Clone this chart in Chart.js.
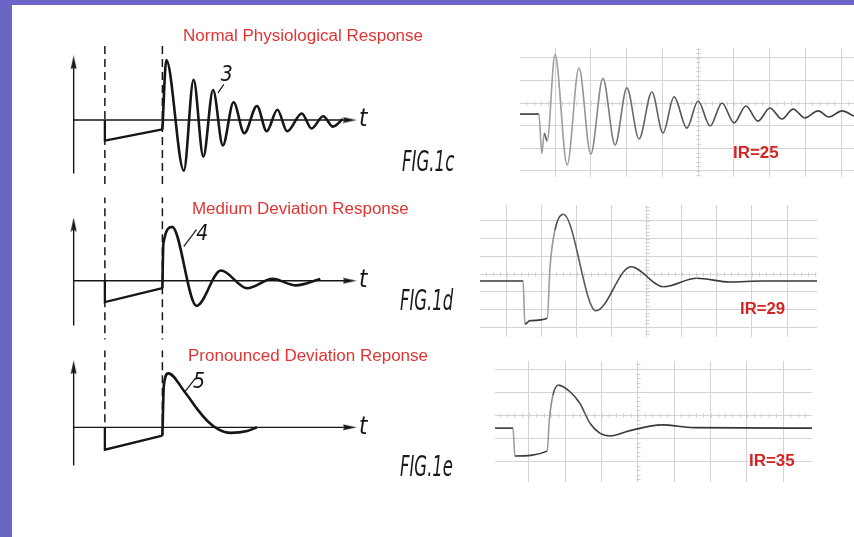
<!DOCTYPE html>
<html><head><meta charset="utf-8">
<script src="https://cdn.jsdelivr.net/npm/chart.js@4.4.1/dist/chart.umd.min.js"></script>
<style>
html,body{margin:0;padding:0;background:#fff}
body{width:854px;height:537px;position:relative;overflow:hidden}
.band{position:absolute;background:#6b66c6}
canvas{position:absolute;display:block}
.lbl{position:absolute;white-space:nowrap;transform-origin:0 0;line-height:1}
</style></head>
<body>
<div class="band" style="left:0;top:0;width:12px;height:537px"></div>
<div class="band" style="left:0;top:0;width:854px;height:5px"></div>
<script>
// ================= DATA =================
// Patent drawings (left): time units / amplitude units
const eventTimes = [3.2, 9.1];            // dashed marker lines
const tLabelPos = [29.7, 0];              // the "t" at the arrow of each time axis

// FIG.1c  Normal Physiological Response
const c_rampT = [3.2, 3.2, 9.1];
const c_rampA = [0, -2.2, -1.0];
const c_waveT = [9.1, 9.5, 11.3, 12.3, 13.3, 14.3, 15.3, 16.4, 17.5, 18.8, 19.8, 20.9, 21.9, 23.4, 24.4, 25.6, 26.6, 27.6];
const c_waveA = [-1.0, 6.4, -5.4, 4.3, -3.9, 3.2, -2.7, 1.9, -1.4, 1.5, -1.2, 1.1, -1.2, 0.7, -0.9, 0.4, -0.7, 0.1];
const c_axisA = [-5.7, 6.15];
const c_axisT = [0, 28.3];
const c_dashA = [7.9, -7.5];
const c_dashB = [7.9, -7.5];
const c_leaderT = [14.8, 15.4];
const c_leaderA = [2.9, 3.8];
const c_tag = ['3', 15.7, 4.8];

// FIG.1d  Medium Deviation Response
const d_rampT = [3.2, 3.2, 9.1];
const d_rampA = [0, -2.3, -0.8];
const d_waveT = [9.1, 9.2, 10.1, 12.6, 15.1, 17.8, 20.4, 22.8, 25.3];
const d_waveA = [-0.8, 4.0, 5.8, -2.7, 1.1, -0.8, 0.2, -0.5, 0.2];
const d_axisA = [-4.8, 6.05];
const d_axisT = [0, 28.3];
const d_dashA = [9.2, -6.5];
const d_dashB = [9.2, -6.5];
const d_leaderT = [11.3, 12.6];
const d_leaderA = [3.7, 5.5];
const d_tag = ['4', 13.2, 5.0];

// FIG.1e  Pronounced Deviation Reponse
const e_rampT = [3.2, 3.2, 9.1];
const e_rampA = [0, -2.4, -0.9];
const e_waveT = [9.1, 9.25, 9.7, 11.4, 12.8, 13.8, 14.8, 16.1, 17.8, 18.8];
const e_waveA = [-0.9, 4.5, 5.8, 3.8, 1.8, 0.6, -0.2, -0.6, -0.4, 0.0];
const e_axisA = [-4.1, 6.45];
const e_axisT = [0, 28.3];
const e_dashA = [8.4, -2.4];
const e_dashB = [8.4, -0.9];
const e_leaderT = [11.4, 12.5];
const e_leaderA = [3.8, 5.3];
const e_tag = ['5', 12.85, 4.8];

// Oscilloscope traces (right): x / y in grid divisions
const r25X = [-0.98, -0.45, -0.37, -0.30, -0.22, 0.0, 0.34, 0.67, 1.0, 1.34, 1.68, 2.01, 2.35, 2.71, 3.02, 3.33, 3.69, 4.0, 4.34, 4.67, 5.01, 5.34, 5.68, 6.01, 6.35, 6.66, 6.99, 7.36, 7.66, 8.03, 8.36];
const r25Y = [-0.49, -0.49, -2.23, -1.34, -1.68, 2.15, -2.74, 1.56, -2.27, 1.09, -1.86, 0.67, -1.59, 0.49, -1.33, 0.27, -1.11, 0.09, -1.02, 0.0, -0.88, -0.13, -0.80, -0.22, -0.71, -0.27, -0.66, -0.35, -0.62, -0.35, -0.58];
const r25GridX = [0, 1, 2, 3, 4, 5, 6, 7, 8];
const r25GridY = [-3, -2, -1, 0, 1, 2];

const r29X = [-0.77, 0.46, 0.51, 0.66, 1.15, 1.23, 1.37, 1.61, 2.54, 3.54, 4.47, 5.42, 6.37, 7.3, 8.86];
const r29Y = [-0.40, -0.40, -2.83, -2.64, -2.51, 0.41, 2.49, 3.38, -2.08, 0.41, -0.72, -0.24, -0.45, -0.40, -0.40];
const r29GridX = [0, 1, 2, 3, 4, 5, 6, 7, 8];
const r29GridY = [-3, -2, -1, 0, 1, 2, 3];

const r35X = [-0.94, -0.44, -0.39, 0.50, 0.56, 0.66, 0.81, 1.13, 1.40, 1.68, 1.96, 2.23, 2.78, 3.66, 4.53, 7.8];
const r35Y = [-0.57, -0.57, -1.78, -1.57, -0.22, 0.87, 1.30, 1.01, 0.51, -0.36, -0.80, -0.91, -0.68, -0.43, -0.55, -0.57];
const r35GridX = [0, 1, 2, 3, 4, 5, 6, 7];
const r35GridY = [-2, -1, 0, 1, 2];

// Texts
const titles = ['Normal Physiological Response', 'Medium Deviation Response', 'Pronounced Deviation Reponse'];
const figNames = ['FIG.1c', 'FIG.1d', 'FIG.1e'];
const irNames = ['IR=25', 'IR=29', 'IR=35'];

// ================= LAYOUT / STYLE =================
const INK = '#161616';
const GRID = '#d4d4d4';
const RED = '#e03434';
const UNIT = 10;
const leftBoxes = [
  {left:40, top:20,  width:430, height:172, ox:69, oy:121},
  {left:40, top:192, width:430, height:153, ox:69, oy:281.7},
  {left:40, top:345, width:430, height:155, ox:69, oy:427.7}
];
const rightBoxes = [
  {left:520, top:48,  width:334, height:129, ox:555, sx:35.75, oy:103, sy:22.6},
  {left:480, top:205, width:337, height:132, ox:507, sx:35,    oy:274, sy:17.67},
  {left:495, top:361, width:317, height:121, ox:529, sx:36.3,  oy:415, sy:23}
];
const titlePos = [[183, 35.8, 240], [191.7, 208.8, 216.7], [188.3, 355.5, 240]];
const figPos = [[401.7, 161.7, 52.3], [400, 301, 53.3], [400, 466.7, 53]];
const irPos = [[732.7, 153.3, 45.6], [740, 309.2, 45], [749.3, 460.5, 45.7]];

function mkCanvas(b){
  const c=document.createElement('canvas');
  c.width=b.width; c.height=b.height;
  c.style.left=b.left+'px'; c.style.top=b.top+'px';
  c.style.width=b.width+'px'; c.style.height=b.height+'px';
  document.body.appendChild(c); return c;
}
function pts(xs, ys){ return xs.map((x,i)=>({x:x, y:ys[i]})); }
function arrowImg(){
  const c=document.createElement('canvas'); c.width=7; c.height=14;
  const g=c.getContext('2d'); g.fillStyle=INK; g.beginPath();
  g.moveTo(3.5,0); g.lineTo(6.5,14); g.lineTo(3.5,12); g.lineTo(0.5,14); g.closePath(); g.fill();
  return c;
}
const ARROW = arrowImg();

function notes(items){
  return { id:'notes', afterDatasetsDraw(chart){
    const ctx=chart.ctx, xs=chart.scales.x, ys=chart.scales.y;
    ctx.save(); ctx.textAlign='center'; ctx.textBaseline='middle'; ctx.fillStyle=INK;
    items.forEach(it=>{ ctx.font=it.font; ctx.fillText(it.text, xs.getPixelForValue(it.x), ys.getPixelForValue(it.y)); });
    ctx.restore();
  }};
}
function minorTicks(cx, cy){
  return { id:'minor', beforeDatasetsDraw(chart){
    const ctx=chart.ctx, xs=chart.scales.x, ys=chart.scales.y;
    const px0=Math.round(xs.getPixelForValue(cx))+0.5, py0=Math.round(ys.getPixelForValue(cy))+0.5;
    ctx.save(); ctx.strokeStyle='#d0d0d0'; ctx.lineWidth=1; ctx.beginPath();
    for(let k=Math.ceil(xs.min*5); k<=Math.floor(xs.max*5); k++){
      const p=Math.round(xs.getPixelForValue(k/5))+0.5; ctx.moveTo(p,py0-2); ctx.lineTo(p,py0+2);
    }
    for(let k=Math.ceil(ys.min*5); k<=Math.floor(ys.max*5); k++){
      const p=Math.round(ys.getPixelForValue(k/5))+0.5; ctx.moveTo(px0-2,p); ctx.lineTo(px0+2,p);
    }
    ctx.stroke(); ctx.restore();
  }};
}

function leftChart(b, p){
  const cv=mkCanvas(b);
  const base={borderColor:INK, pointRadius:0, tension:0, fill:false};
  const ds=[
    Object.assign({}, base, {data:pts([0,0], p.axisA), borderWidth:1.4, pointStyle:ARROW, pointRadius:c=>c.dataIndex===1?3:0}),
    Object.assign({}, base, {data:pts(p.axisT,[0,0]), borderWidth:1.4, pointStyle:ARROW, pointRotation:90, pointRadius:c=>c.dataIndex===1?3:0}),
    Object.assign({}, base, {data:pts([eventTimes[0],eventTimes[0]], p.dashA), borderWidth:1.5, borderDash:[8,5]}),
    Object.assign({}, base, {data:pts([eventTimes[1],eventTimes[1]], p.dashB), borderWidth:1.5, borderDash:[8,5]}),
    Object.assign({}, base, {data:pts(p.rampT, p.rampA), borderWidth:2.3}),
    Object.assign({}, base, {data:pts(p.waveT, p.waveA), borderWidth:2.6, cubicInterpolationMode:'monotone'}),
    Object.assign({}, base, {data:pts(p.leaderT, p.leaderA), borderWidth:1.2})
  ];
  new Chart(cv, {
    type:'line', data:{datasets:ds},
    options:{ responsive:false, animation:false, events:[], layout:{padding:0},
      plugins:{legend:{display:false}, tooltip:{enabled:false}},
      scales:{
        x:{type:'linear', display:false, min:(b.left-b.ox)/UNIT, max:(b.left+b.width-b.ox)/UNIT},
        y:{type:'linear', display:false, min:(b.oy-b.top-b.height)/UNIT, max:(b.oy-b.top)/UNIT}
      }},
    plugins:[notes([
      {text:'t', x:tLabelPos[0], y:tLabelPos[1], font:'italic 24px "Liberation Sans Narrow","DejaVu Sans Condensed",sans-serif'},
      {text:p.tag[0], x:p.tag[1], y:p.tag[2], font:'italic 21px "Liberation Sans Narrow","DejaVu Sans Condensed",sans-serif'}
    ])]
  });
}

function gridChart(b, xs, ys, gx, gy, cx){
  const cv=mkCanvas(b);
  const seg = s => { const dx=Math.max(1,Math.abs(s.p1.x-s.p0.x)); const sl=Math.min(8,Math.abs(s.p1.y-s.p0.y)/dx); const g=Math.round(0x36+sl*13); return 'rgb('+g+','+g+','+g+')'; };
  new Chart(cv, {
    type:'line',
    data:{datasets:[{data:pts(xs,ys), borderColor:'#383838', borderWidth:1.6, pointRadius:0, fill:false,
      cubicInterpolationMode:'monotone', segment:{borderColor:seg}}]},
    options:{ responsive:false, animation:false, events:[], layout:{padding:0},
      plugins:{legend:{display:false}, tooltip:{enabled:false}},
      scales:{
        x:{type:'linear', min:(b.left-b.ox)/b.sx, max:(b.left+b.width-b.ox)/b.sx,
           ticks:{display:false}, grid:{color:GRID, lineWidth:1, drawTicks:false}, border:{display:false},
           afterBuildTicks:ax=>{ ax.ticks=gx.map(v=>({value:v})); }},
        y:{type:'linear', min:(b.oy-b.top-b.height)/b.sy, max:(b.oy-b.top)/b.sy,
           ticks:{display:false}, grid:{color:GRID, lineWidth:1, drawTicks:false}, border:{display:false},
           afterBuildTicks:ax=>{ ax.ticks=gy.map(v=>({value:v})); }}
      }},
    plugins:[minorTicks(cx, 0)]
  });
}

function label(text, pos, font, fs, color){
  const d=document.createElement('div'); d.className='lbl'; d.textContent=text;
  d.style.font=font; d.style.lineHeight='1'; d.style.color=color;
  d.style.left=pos[0]+'px'; d.style.top=(pos[1]-0.49*fs)+'px';
  document.body.appendChild(d);
  const w=d.getBoundingClientRect().width;
  d.style.transform='scaleX('+(pos[2]/w)+')';
}

// ================= BUILD =================
leftChart(leftBoxes[0], {rampT:c_rampT, rampA:c_rampA, waveT:c_waveT, waveA:c_waveA, axisA:c_axisA, axisT:c_axisT, dashA:c_dashA, dashB:c_dashB, leaderT:c_leaderT, leaderA:c_leaderA, tag:c_tag});
leftChart(leftBoxes[1], {rampT:d_rampT, rampA:d_rampA, waveT:d_waveT, waveA:d_waveA, axisA:d_axisA, axisT:d_axisT, dashA:d_dashA, dashB:d_dashB, leaderT:d_leaderT, leaderA:d_leaderA, tag:d_tag});
leftChart(leftBoxes[2], {rampT:e_rampT, rampA:e_rampA, waveT:e_waveT, waveA:e_waveA, axisA:e_axisA, axisT:e_axisT, dashA:e_dashA, dashB:e_dashB, leaderT:e_leaderT, leaderA:e_leaderA, tag:e_tag});

gridChart(rightBoxes[0], r25X, r25Y, r25GridX, r25GridY, 4);
gridChart(rightBoxes[1], r29X, r29Y, r29GridX, r29GridY, 4);
gridChart(rightBoxes[2], r35X, r35Y, r35GridX, r35GridY, 3);

for(let i=0;i<3;i++){
  label(titles[i], titlePos[i], '16px "Liberation Sans",Arial,sans-serif', 16, RED);
  label(figNames[i], figPos[i], 'italic 28px "Liberation Sans Narrow","DejaVu Sans Condensed",sans-serif', 28, '#1a1a1a');
  label(irNames[i], irPos[i], 'bold 16px "Liberation Sans",Arial,sans-serif', 16, '#d42424');
}
</script>
</body></html>
